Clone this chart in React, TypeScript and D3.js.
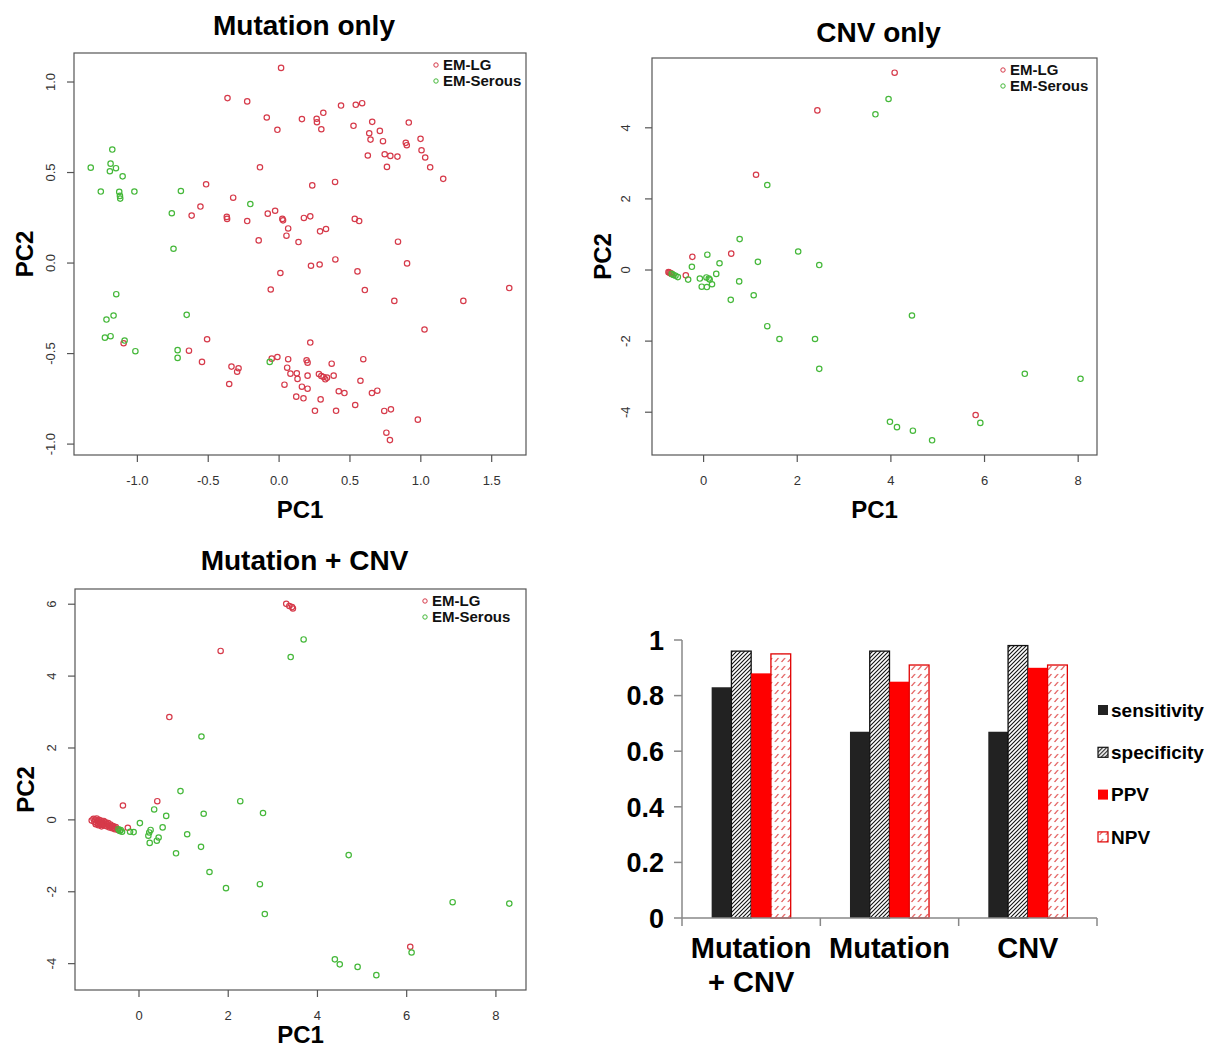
import React from 'react';
import * as d3 from 'd3';

// ---- scatter data (PC1, PC2) ----
const mutationLG = [
  [0.014, 1.078], [-0.364, 0.911], [-0.225, 0.893], [-0.087, 0.804], [-0.012, 0.736], [-0.135, 0.529],
  [-0.515, 0.435], [-0.324, 0.361], [-0.555, 0.312], [-0.617, 0.262], [-0.369, 0.255], [-0.367, 0.244],
  [-0.225, 0.232], [-0.08, 0.273], [-0.028, 0.289], [0.023, 0.244], [0.028, 0.236], [0.064, 0.191],
  [0.052, 0.151], [-0.144, 0.125], [0.137, 0.116], [0.161, 0.795], [0.265, 0.797], [0.267, 0.778],
  [0.312, 0.83], [0.298, 0.739], [0.437, 0.87], [0.541, 0.874], [0.586, 0.883], [0.525, 0.758],
  [0.657, 0.78], [0.915, 0.776], [0.636, 0.717], [0.711, 0.73], [0.645, 0.682], [0.733, 0.673],
  [0.894, 0.664], [0.901, 0.651], [0.998, 0.686], [1.005, 0.623], [1.031, 0.583], [1.066, 0.529],
  [1.158, 0.465], [0.626, 0.594], [0.745, 0.601], [0.785, 0.592], [0.835, 0.588], [0.761, 0.531],
  [0.234, 0.429], [0.395, 0.448], [0.175, 0.249], [0.22, 0.258], [0.534, 0.244], [0.565, 0.232],
  [0.289, 0.175], [0.331, 0.188], [0.839, 0.118], [0.009, -0.055], [-0.059, -0.146], [-1.097, -0.443],
  [-0.636, -0.484], [-0.508, -0.421], [-0.544, -0.546], [-0.336, -0.572], [-0.286, -0.581], [-0.296, -0.6],
  [-0.352, -0.668], [-0.052, -0.528], [-0.012, -0.519], [0.064, -0.531], [0.057, -0.578], [0.08, -0.611],
  [0.125, -0.609], [0.13, -0.64], [0.038, -0.672], [0.121, -0.738], [0.225, -0.015], [0.286, -0.008],
  [0.397, 0.02], [0.553, -0.046], [0.903, -0.002], [0.605, -0.149], [0.813, -0.209], [1.3, -0.209],
  [1.624, -0.138], [1.026, -0.367], [0.22, -0.439], [0.194, -0.537], [0.201, -0.55], [0.371, -0.556],
  [0.594, -0.531], [0.201, -0.622], [0.281, -0.613], [0.298, -0.624], [0.314, -0.629], [0.326, -0.642],
  [0.338, -0.633], [0.385, -0.622], [0.161, -0.683], [0.201, -0.694], [0.172, -0.747], [0.293, -0.753],
  [0.421, -0.708], [0.461, -0.718], [0.574, -0.65], [0.655, -0.718], [0.693, -0.705], [0.253, -0.816],
  [0.402, -0.816], [0.537, -0.784], [0.742, -0.817], [0.789, -0.808], [0.979, -0.865], [0.757, -0.937],
  [0.782, -0.978],
];
const mutationSerous = [
  [-1.177, 0.627], [-1.329, 0.527], [-1.189, 0.549], [-1.151, 0.524], [-1.194, 0.507], [-1.104, 0.479],
  [-1.258, 0.395], [-1.128, 0.393], [-1.123, 0.371], [-1.121, 0.356], [-1.021, 0.395], [-0.693, 0.398],
  [-0.757, 0.275], [-0.745, 0.079], [-0.203, 0.326], [-1.149, -0.172], [-1.168, -0.29], [-1.218, -0.312],
  [-0.652, -0.286], [-1.229, -0.412], [-1.189, -0.404], [-1.09, -0.428], [-1.014, -0.487], [-0.716, -0.481],
  [-0.716, -0.524], [-0.066, -0.546],
];

const cnvLG = [
  [4.08, 5.55], [2.43, 4.49], [1.12, 2.68], [0.59, 0.46], [-0.24, 0.37], [-0.38, -0.15], [5.81, -4.08],
  [-0.75, -0.06], [-0.73, -0.07], [-0.71, -0.09], [-0.69, -0.1], [-0.67, -0.12],
];
const cnvSerous = [
  [3.95, 4.81], [3.67, 4.38], [1.36, 2.39], [0.77, 0.87], [2.02, 0.52], [0.08, 0.43], [-0.25, 0.09],
  [0.34, 0.19], [1.16, 0.23], [2.47, 0.14], [-0.55, -0.2], [-0.33, -0.27], [-0.08, -0.24], [0.06, -0.21],
  [0.11, -0.24], [0.13, -0.27], [0.27, -0.11], [-0.04, -0.47], [0.07, -0.48], [0.18, -0.4], [0.76, -0.32],
  [0.58, -0.84], [1.07, -0.71], [1.36, -1.58], [1.62, -1.94], [2.38, -1.94], [2.47, -2.78], [4.45, -1.28],
  [6.86, -2.92], [8.05, -3.06], [5.91, -4.3], [3.98, -4.27], [4.13, -4.42], [4.47, -4.52], [4.88, -4.79],
  [-0.68, -0.11], [-0.64, -0.14], [-0.6, -0.16],
];

const bothLG = [
  [3.3, 6.01], [3.37, 5.95], [3.43, 5.92], [3.45, 5.88], [1.83, 4.7], [0.68, 2.86], [0.41, 0.52],
  [-0.36, 0.4], [-0.25, -0.22], [6.08, -3.53],
  [-1.06, -0.02], [-1.02, 0.03], [-1.0, -0.05], [-0.98, 0.01], [-0.96, -0.08], [-0.95, 0.04], [-0.93, -0.03],
  [-0.92, -0.1], [-0.9, 0.0], [-0.89, -0.06], [-0.87, -0.12], [-0.86, -0.02], [-0.85, -0.08], [-0.83, -0.05],
  [-0.82, -0.14], [-0.8, -0.09], [-0.79, -0.03], [-0.78, -0.12], [-0.76, -0.16], [-0.75, -0.07], [-0.73, -0.11],
  [-0.72, -0.18], [-0.7, -0.14], [-0.69, -0.09], [-0.67, -0.17], [-0.66, -0.21], [-0.64, -0.13], [-0.62, -0.19],
  [-0.6, -0.23], [-0.58, -0.17], [-0.56, -0.22], [-0.54, -0.26], [-0.52, -0.2], [-0.5, -0.25], [-0.47, -0.28],
  [-0.91, -0.15], [-0.84, -0.18], [-0.97, -0.12],
];
const bothSerous = [
  [3.69, 5.02], [3.4, 4.53], [1.4, 2.32], [0.93, 0.8], [2.27, 0.52], [0.34, 0.29], [0.61, 0.11],
  [1.45, 0.17], [2.78, 0.19], [0.02, -0.09], [0.53, -0.21], [0.26, -0.28], [0.23, -0.35], [0.21, -0.44],
  [0.44, -0.49], [0.4, -0.58], [0.24, -0.64], [1.08, -0.4], [1.39, -0.75], [0.83, -0.93], [1.58, -1.45],
  [1.95, -1.9], [2.71, -1.79], [2.82, -2.62], [4.7, -0.98], [7.03, -2.29], [8.3, -2.33], [6.11, -3.69],
  [4.39, -3.88], [4.5, -4.02], [4.9, -4.09], [5.32, -4.32],
  [-0.46, -0.26], [-0.43, -0.31], [-0.41, -0.28], [-0.38, -0.33], [-0.2, -0.33], [-0.12, -0.34],
];

const mutationXTicks = [-1, -0.5, 0, 0.5, 1, 1.5];
const mutationYTicks = [-1, -0.5, 0, 0.5, 1];
const cnvXTicks = [0, 2, 4, 6, 8];
const cnvYTicks = [-4, -2, 0, 2, 4];
const bothXTicks = [0, 2, 4, 6, 8];
const bothYTicks = [-4, -2, 0, 2, 4, 6];
const legendLabels = ['EM-LG', 'EM-Serous'];

// ---- bar chart data ----
const groups = ['Mutation + CNV', 'Mutation', 'CNV'];
const groupLines = [['Mutation', '+ CNV'], ['Mutation'], ['CNV']];
const measures = ['sensitivity', 'specificity', 'PPV', 'NPV'];
const sensitivity = [0.83, 0.67, 0.67];
const specificity = [0.96, 0.96, 0.98];
const ppv = [0.88, 0.85, 0.9];
const npv = [0.95, 0.91, 0.91];
const barTicks = [0, 0.2, 0.4, 0.6, 0.8, 1];

const FONT = '"Liberation Sans", Arial, sans-serif';
const RED = '#d63a4a';
const GREEN = '#45b83a';

// R style: pad the data range by 4% on each side
const padded = (vals) => {
  const [lo, hi] = d3.extent(vals);
  const p = (hi - lo) * 0.04;
  return [lo - p, hi + p];
};

const Scatter = ({ box, lg, serous, xTicks, yTicks, fmt, title, titleY, legendDx, yLabelDx, pc1Dy }) => {
  const all = lg.concat(serous);
  const x = d3.scaleLinear().domain(padded(all.map(d => d[0]))).range([box.x0, box.x1]);
  const y = d3.scaleLinear().domain(padded(all.map(d => d[1]))).range([box.y1, box.y0]);
  const cx = (box.x0 + box.x1) / 2;
  const cy = (box.y0 + box.y1) / 2;
  const axisCol = '#555';
  return (
    <g>
      <text x={cx + 4} y={titleY} textAnchor="middle" fontFamily={FONT} fontWeight="bold" fontSize={28}>{title}</text>
      <rect x={box.x0} y={box.y0} width={box.x1 - box.x0} height={box.y1 - box.y0} fill="none" stroke={axisCol} strokeWidth={1.2} />
      {xTicks.map(t => (
        <g key={'x' + t}>
          <line x1={x(t)} x2={x(t)} y1={box.y1} y2={box.y1 + 7} stroke={axisCol} strokeWidth={1.2} />
          <text x={x(t)} y={box.y1 + 30} textAnchor="middle" fontFamily={FONT} fontSize={13} fill="#333">{fmt(t)}</text>
        </g>
      ))}
      {yTicks.map(t => (
        <g key={'y' + t}>
          <line x1={box.x0 - 7} x2={box.x0} y1={y(t)} y2={y(t)} stroke={axisCol} strokeWidth={1.2} />
          <text transform={`translate(${box.x0 - yLabelDx},${y(t)}) rotate(-90)`} textAnchor="middle" fontFamily={FONT} fontSize={13} fill="#333">{fmt(t)}</text>
        </g>
      ))}
      <text x={cx} y={box.y1 + pc1Dy} textAnchor="middle" fontFamily={FONT} fontWeight="bold" fontSize={24}>PC1</text>
      <text transform={`translate(${box.x0 - 41},${cy}) rotate(-90)`} textAnchor="middle" fontFamily={FONT} fontWeight="bold" fontSize={24}>PC2</text>
      {lg.map((d, i) => (
        <circle key={'r' + i} cx={x(d[0])} cy={y(d[1])} r={2.7} fill="none" stroke={RED} strokeWidth={1.2} />
      ))}
      {serous.map((d, i) => (
        <circle key={'g' + i} cx={x(d[0])} cy={y(d[1])} r={2.7} fill="none" stroke={GREEN} strokeWidth={1.2} />
      ))}
      {legendLabels.map((l, i) => (
        <g key={l} transform={`translate(${box.x1 - legendDx},${box.y0 + 17 + i * 16})`}>
          <circle cx={-7} cy={-5} r={2.2} fill="none" stroke={i === 0 ? RED : GREEN} strokeWidth={1} />
          <text x={0} y={0} fontFamily={FONT} fontWeight="bold" fontSize={15} fill="#111">{l}</text>
        </g>
      ))}
    </g>
  );
};

const fmt1 = (t) => t.toFixed(1);
const fmt0 = (t) => String(t);

const BarChart = () => {
  const x0 = d3.scaleBand().domain(groups).range([682, 1097]);
  const x1 = d3.scaleBand().domain(measures).range([0, x0.bandwidth()]).paddingOuter(1.5);
  const y = d3.scaleLinear().domain([0, 1]).range([918, 640]);
  const values = { sensitivity, specificity, PPV: ppv, NPV: npv };
  const fills = { sensitivity: '#222', specificity: 'url(#hatchBlack)', PPV: '#ff0000', NPV: 'url(#hatchRed)' };
  const strokes = { sensitivity: '#222', specificity: '#111', PPV: '#ff0000', NPV: '#e00000' };
  const axisCol = '#888';
  return (
    <g>
      <defs>
        <pattern id="hatchBlack" patternUnits="userSpaceOnUse" width={4} height={4}>
          <rect width={4} height={4} fill="#fff" />
          <path d="M-1,1 l2,-2 M0,4 l4,-4 M3,5 l2,-2" stroke="#111" strokeWidth={1.1} />
        </pattern>
        <pattern id="hatchRed" patternUnits="userSpaceOnUse" width={6.5} height={8}>
          <rect width={6.5} height={8} fill="#fff" />
          <path d="M1.5,6 l3.5,-4" stroke="#d82020" strokeWidth={1} />
        </pattern>
      </defs>
      {groups.map((g, gi) =>
        measures.map(m => {
          const v = values[m][gi];
          return (
            <rect key={g + m} x={x0(g) + x1(m)} y={y(v)} width={x1.bandwidth()} height={y(0) - y(v)}
              fill={fills[m]} stroke={strokes[m]} strokeWidth={m === 'specificity' || m === 'NPV' ? 1.3 : 0} />
          );
        })
      )}
      <line x1={682} x2={682} y1={y(1)} y2={y(0)} stroke={axisCol} strokeWidth={1.5} />
      <line x1={682} x2={1097} y1={y(0)} y2={y(0)} stroke={axisCol} strokeWidth={1.5} />
      {barTicks.map(t => (
        <g key={t}>
          <line x1={674} x2={682} y1={y(t)} y2={y(t)} stroke={axisCol} strokeWidth={1.5} />
          <text x={664} y={y(t)} dy="0.36em" textAnchor="end" fontFamily={FONT} fontWeight="bold" fontSize={27}>{d3.format('~g')(t)}</text>
        </g>
      ))}
      {groups.map(g => (
        <line key={'t' + g} x1={x0(g)} x2={x0(g)} y1={y(0)} y2={y(0) + 8} stroke={axisCol} strokeWidth={1.5} />
      ))}
      <line x1={1097} x2={1097} y1={y(0)} y2={y(0) + 8} stroke={axisCol} strokeWidth={1.5} />
      {groups.map((g, gi) => (
        <text key={'l' + g} x={x0(g) + x0.bandwidth() / 2} y={958} textAnchor="middle" fontFamily={FONT} fontWeight="bold" fontSize={29}>
          {groupLines[gi].map((s, k) => (
            <tspan key={k} x={x0(g) + x0.bandwidth() / 2} dy={k === 0 ? 0 : 34}>{s}</tspan>
          ))}
        </text>
      ))}
      {measures.map((m, i) => (
        <g key={'lg' + m} transform={`translate(1098,${710 + i * 42.3})`}>
          <rect x={0} y={-5} width={10} height={10} fill={fills[m]} stroke={strokes[m]} strokeWidth={m === 'specificity' || m === 'NPV' ? 1.2 : 0} />
          <text x={13} y={0} dy="0.36em" fontFamily={FONT} fontWeight="bold" fontSize={19}>{m}</text>
        </g>
      ))}
    </g>
  );
};

export default function App() {
  return (
    <svg width={1208} height={1050} style={{ position: 'absolute', left: 0, top: 0, background: '#fff' }}>
      <rect width={1208} height={1050} fill="#fff" />
      <Scatter box={{ x0: 74, x1: 526, y0: 53, y1: 455 }} lg={mutationLG} serous={mutationSerous}
        xTicks={mutationXTicks} yTicks={mutationYTicks} fmt={fmt1} title="Mutation only" titleY={35}
        legendDx={83} yLabelDx={19} pc1Dy={63} />
      <Scatter box={{ x0: 652, x1: 1097, y0: 58, y1: 455 }} lg={cnvLG} serous={cnvSerous}
        xTicks={cnvXTicks} yTicks={cnvYTicks} fmt={fmt0} title="CNV only" titleY={42}
        legendDx={87} yLabelDx={22} pc1Dy={63} />
      <Scatter box={{ x0: 75, x1: 526, y0: 589, y1: 990 }} lg={bothLG} serous={bothSerous}
        xTicks={bothXTicks} yTicks={bothYTicks} fmt={fmt0} title="Mutation + CNV" titleY={570}
        legendDx={94} yLabelDx={19} pc1Dy={53} />
      <BarChart />
    </svg>
  );
}
